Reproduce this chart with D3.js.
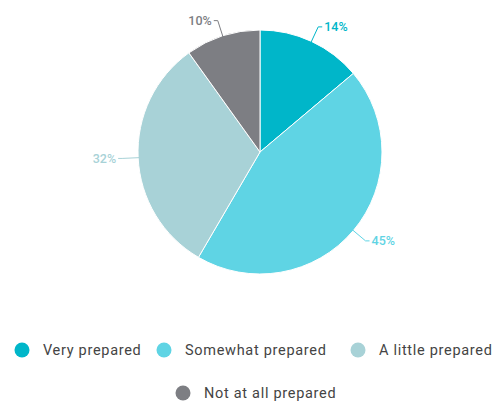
<!DOCTYPE html>
<html lang="en">
 <head>
 <meta charset="UTF-8">
        <title>Preparedness pie</title>
        <script type="text/javascript" src="https://cdn.jsdelivr.net/npm/d3@7/dist/d3.min.js"></script>
        <style>
          body { margin: 0; background: #fff; }
          text { font-family: Roboto, "Noto Sans", sans-serif; }
        </style>
 </head>

 <body>
        <script type="text/javascript">

          var categories = ["Very prepared", "Somewhat prepared", "A little prepared", "Not at all prepared"];
          var values = [14, 45, 32, 10];
          var colors = ["#00b6c9", "#5fd4e4", "#a8d2d7", "#7d7e83"];

          var width = 493, height = 402;
          var cx = 260, cy = 152, radius = 122;

          var svg = d3.select("body").append("svg")
                      .attr("width", width)
                      .attr("height", height);

          var g = svg.append("g").attr("transform", "translate(" + cx + "," + cy + ")");

          var pie = d3.pie().sort(null).value(function (d) { return d; });
          var arcs = pie(values);
          var arc = d3.arc().innerRadius(0).outerRadius(radius);

          g.selectAll("path.slice")
            .data(arcs)
            .enter()
            .append("path")
            .attr("class", "slice")
            .attr("d", arc)
            .attr("fill", function (d, i) { return colors[i]; })
            .attr("stroke", "#fff")
            .attr("stroke-width", 1);

          // leader lines + labels
          function pt(a, r) { return [Math.sin(a) * r, -Math.cos(a) * r]; }

          arcs.forEach(function (d, i) {
            var mid = (d.startAngle + d.endAngle) / 2;
            var p0 = pt(mid, radius - 2), p1 = pt(mid, radius + 16);
            var right = Math.sin(mid) > 0;
            var pl = [p1[0] + (right ? 4 : -4), p1[1]];
            g.append("polyline")
              .attr("points", [p0, p1, pl].map(function (p) { return p.join(","); }).join(" "))
              .attr("fill", "none")
              .attr("stroke", colors[i])
              .attr("stroke-width", 1);
            g.append("text")
              .attr("x", pl[0] + (right ? 2 : -2))
              .attr("y", pl[1])
              .attr("dy", "0.35em")
              .attr("text-anchor", right ? "start" : "end")
              .attr("font-size", 12.5)
              .attr("font-weight", 500)
              .attr("fill", colors[i])
              .text(values[i] + "%");
          });

          // legend
          var legendPos = [[22, 350], [164, 350], [358, 350], [183, 393]];
          var legend = svg.selectAll("g.legend")
            .data(categories)
            .enter()
            .append("g")
            .attr("class", "legend")
            .attr("transform", function (d, i) { return "translate(" + legendPos[i][0] + "," + legendPos[i][1] + ")"; });

          legend.append("circle")
            .attr("r", 7.5)
            .attr("fill", function (d, i) { return colors[i]; });

          legend.append("text")
            .attr("x", 21)
            .attr("dy", "0.35em")
            .attr("font-size", 14.5)
            .attr("letter-spacing", 0.7)
            .attr("fill", "#444")
            .text(function (d) { return d; });

        </script>
    </body>
</html>
